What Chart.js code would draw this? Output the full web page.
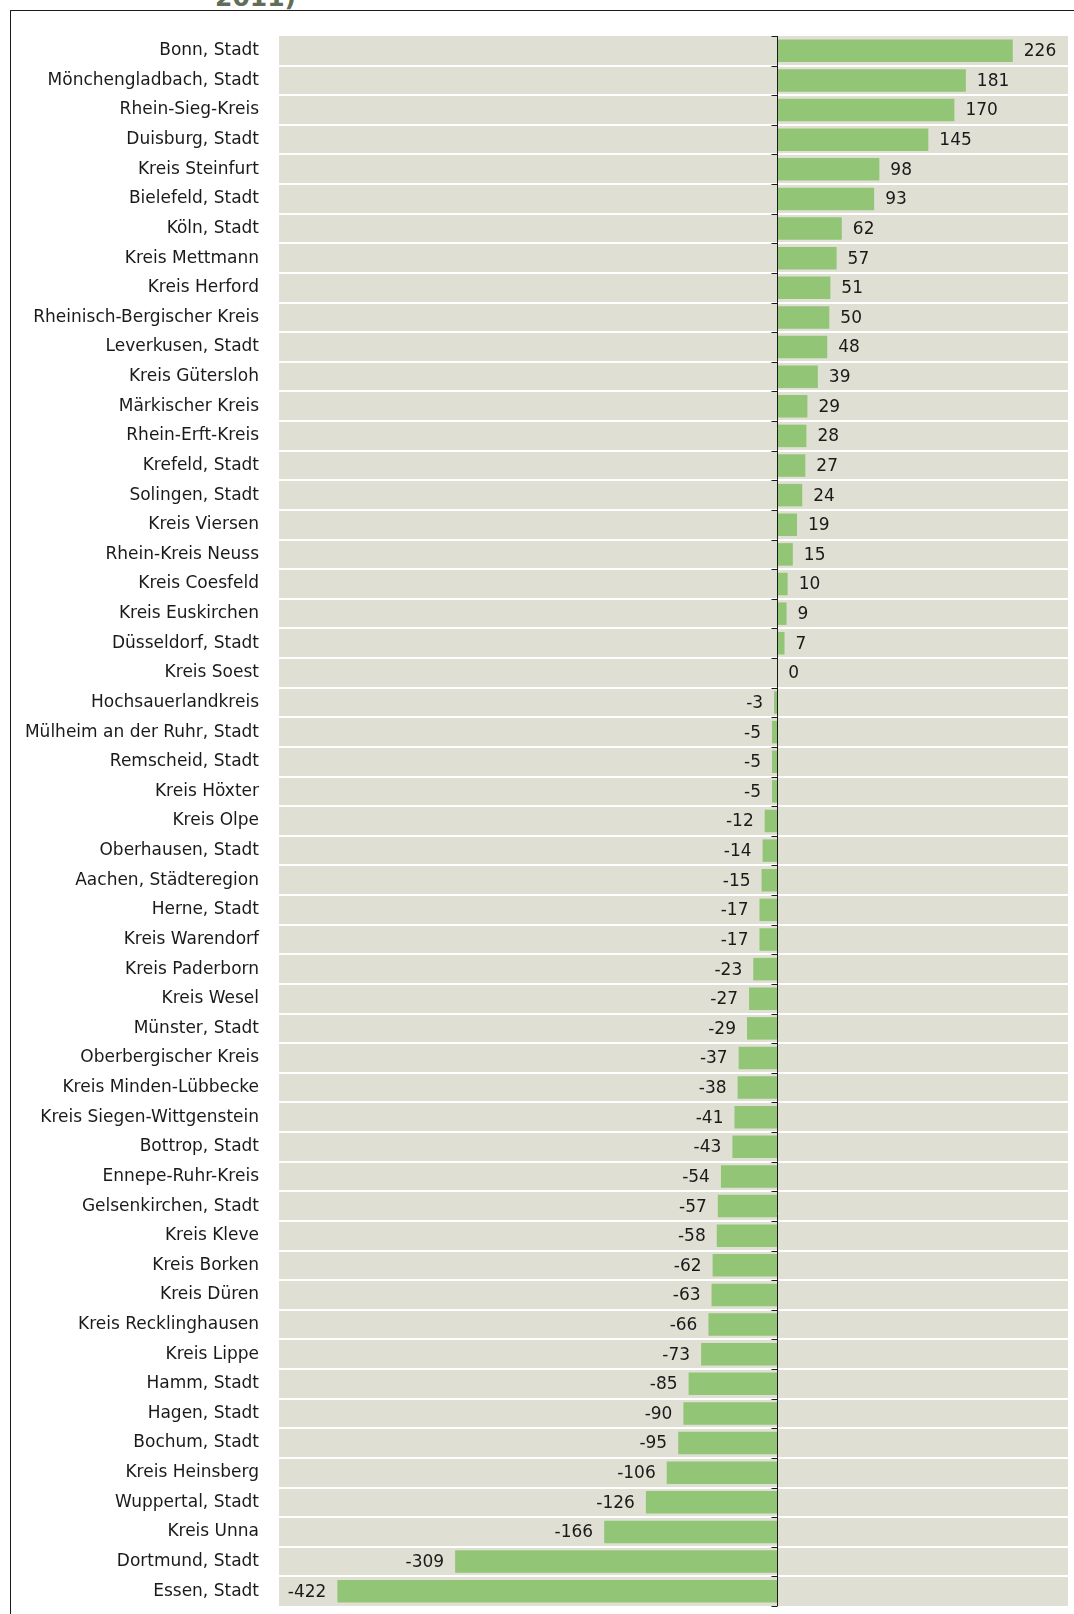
<!DOCTYPE html>
<html>
<head>
<meta charset="utf-8">
<script src="https://cdn.jsdelivr.net/npm/chart.js@4"></script>
<style>
html,body{margin:0;padding:0;background:#fff;overflow:hidden}
#page{position:relative;width:1074px;height:1614px}
#frame{position:absolute;left:10px;top:10px;width:1100px;height:1700px;border:1px solid #1a1a1a;box-sizing:border-box}
#title{position:absolute;left:215px;top:-17px;font:bold 25px "DejaVu Sans",sans-serif;color:#5f6e58;white-space:nowrap}
#c{position:absolute;left:0;top:0}
</style>
</head>
<body>
<div id="page">
<div id="title">2011)</div>
<div id="frame"></div>
<canvas id="c" width="1074" height="1614"></canvas>
</div>
<script>
const regions=["Bonn, Stadt","Mönchengladbach, Stadt","Rhein-Sieg-Kreis","Duisburg, Stadt","Kreis Steinfurt","Bielefeld, Stadt","Köln, Stadt","Kreis Mettmann","Kreis Herford","Rheinisch-Bergischer Kreis","Leverkusen, Stadt","Kreis Gütersloh","Märkischer Kreis","Rhein-Erft-Kreis","Krefeld, Stadt","Solingen, Stadt","Kreis Viersen","Rhein-Kreis Neuss","Kreis Coesfeld","Kreis Euskirchen","Düsseldorf, Stadt","Kreis Soest","Hochsauerlandkreis","Mülheim an der Ruhr, Stadt","Remscheid, Stadt","Kreis Höxter","Kreis Olpe","Oberhausen, Stadt","Aachen, Städteregion","Herne, Stadt","Kreis Warendorf","Kreis Paderborn","Kreis Wesel","Münster, Stadt","Oberbergischer Kreis","Kreis Minden-Lübbecke","Kreis Siegen-Wittgenstein","Bottrop, Stadt","Ennepe-Ruhr-Kreis","Gelsenkirchen, Stadt","Kreis Kleve","Kreis Borken","Kreis Düren","Kreis Recklinghausen","Kreis Lippe","Hamm, Stadt","Hagen, Stadt","Bochum, Stadt","Kreis Heinsberg","Wuppertal, Stadt","Kreis Unna","Dortmund, Stadt","Essen, Stadt"];
const changes=[226,181,170,145,98,93,62,57,51,50,48,39,29,28,27,24,19,15,10,9,7,0,-3,-5,-5,-5,-12,-14,-15,-17,-17,-23,-27,-29,-37,-38,-41,-43,-54,-57,-58,-62,-63,-66,-73,-85,-90,-95,-106,-126,-166,-309,-422];
const xMin=-478, xMax=279;

const FONT='"DejaVu Sans",sans-serif';

// band background, zero axis with ticks, value labels
const deco={
  id:"deco",
  beforeDatasetsDraw(ch){
    const {ctx,chartArea:a}=ch;
    ctx.save();
    ctx.fillStyle="#dfe0d3";
    ctx.fillRect(a.left,a.top,a.right-a.left,a.bottom-a.top);
    const step=(a.bottom-a.top)/regions.length;
    ctx.strokeStyle="#ffffff";ctx.lineWidth=2;
    for(let i=1;i<regions.length;i++){
      const yy=Math.round(a.top+i*step);
      ctx.beginPath();ctx.moveTo(a.left,yy);ctx.lineTo(a.right,yy);ctx.stroke();
    }
    ctx.restore();
  },
  afterDatasetsDraw(ch){
    const {ctx,chartArea:a,scales:{x,y}}=ch;
    const x0=Math.round(x.getPixelForValue(0))+0.5;
    const step=(a.bottom-a.top)/regions.length;
    ctx.save();
    ctx.strokeStyle="#1a1a1a";ctx.lineWidth=1;
    ctx.beginPath();ctx.moveTo(x0,a.top);ctx.lineTo(x0,a.bottom);ctx.stroke();
    for(let i=0;i<=regions.length;i++){
      const yy=Math.round(a.top+i*step)+0.5;
      ctx.beginPath();ctx.moveTo(x0-6,yy);ctx.lineTo(x0,yy);ctx.stroke();
    }
    ctx.font="17px "+FONT;ctx.fillStyle="#1a1a1a";ctx.textBaseline="middle";
    changes.forEach((v,i)=>{
      const py=y.getPixelForValue(i)+1;
      const px=x.getPixelForValue(v);
      if(v>=0){ctx.textAlign="left";ctx.fillText(String(v),px+11,py)}
      else{ctx.textAlign="right";ctx.fillText(String(v),px-11,py)}
    });
    ctx.restore();
  }
};

new Chart(document.getElementById("c"),{
  type:"bar",
  data:{labels:regions,datasets:[{data:changes,backgroundColor:"#93c577",borderWidth:0,barPercentage:0.76,categoryPercentage:1}]},
  options:{
    indexAxis:"y",responsive:false,animation:false,
    layout:{padding:{top:36,bottom:8,right:6,left:0}},
    plugins:{legend:{display:false},tooltip:{enabled:false}},
    scales:{
      x:{min:xMin,max:xMax,display:false},
      y:{
        grid:{display:false,drawTicks:false},border:{display:false},
        ticks:{color:"#1a1a1a",padding:20,autoSkip:false,font:{family:FONT,size:17}},
        afterFit(s){s.width=279;s.paddingTop=0;s.paddingBottom=0}
      }
    }
  },
  plugins:[deco]
});
</script>
</body>
</html>
